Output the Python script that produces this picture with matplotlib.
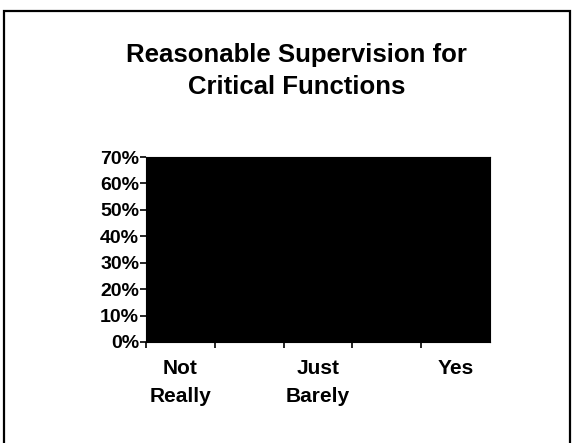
import numpy as np
import matplotlib.pyplot as plt
from matplotlib.patches import Rectangle

# Data (plot area is solid black in the scan, bar heights are estimates)
categories = ["Not\nReally", "", "Just\nBarely", "", "Yes"]
values = [0.12, 0.08, 0.22, 0.15, 0.62]
yticks = [0, 0.1, 0.2, 0.3, 0.4, 0.5, 0.6, 0.7]
ytick_labels = ["0%", "10%", "20%", "30%", "40%", "50%", "60%", "70%"]

plt.rcParams['font.family'] = ['Liberation Sans', 'DejaVu Sans']
plt.rcParams['font.weight'] = 'bold'

fig = plt.figure(figsize=(5.73, 4.43), dpi=100)
ax = fig.add_axes([146 / 573, 1 - 342 / 443, (490 - 146) / 573, (342 - 157) / 443])

x = np.arange(len(values))
ax.set_facecolor('black')
ax.bar(x, values, width=1.0, color='black', edgecolor='black')

ax.set_xlim(-0.5, len(values) - 0.5)
ax.set_ylim(0, 0.7)
ax.set_yticks(yticks)
ax.set_yticklabels(ytick_labels, fontsize=14, fontweight='bold')
ax.tick_params(axis='y', length=4, width=1.2, pad=1)

ax.set_xticks(x)
ax.set_xticklabels(categories, fontsize=15, fontweight='bold', linespacing=1.6)
ax.set_xticks(np.arange(len(values)) - 0.5, minor=True)
ax.tick_params(axis='x', which='major', length=0, pad=12)
ax.tick_params(axis='x', which='minor', length=4, width=1.2)

for s in ax.spines.values():
    s.set_color('black')

fig.text(0.518, 1 - 71 / 443, "Reasonable Supervision for\nCritical Functions",
         ha='center', va='center', fontsize=18.5, fontweight='bold', linespacing=1.38)

# page frame around the chart
fig.patches.append(Rectangle((4 / 573, -0.05), 566 / 573, 1.05 - 11 / 443,
                             transform=fig.transFigure, fill=False,
                             edgecolor='black', linewidth=1.6))

fig.savefig("out.png", dpi=100, facecolor='white')
